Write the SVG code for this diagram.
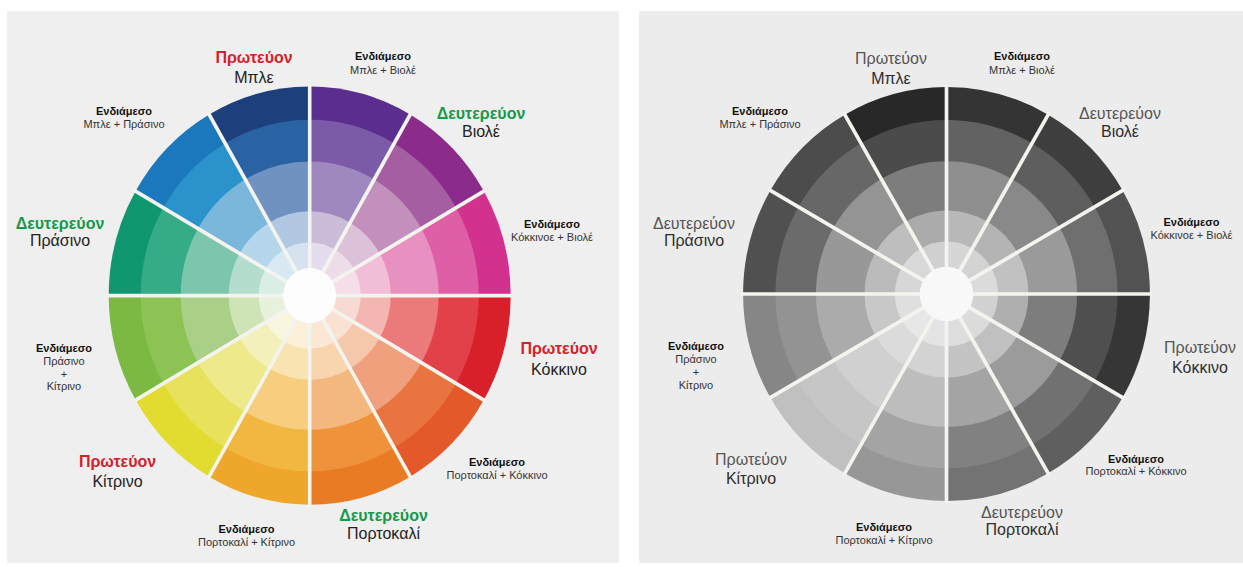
<svg xmlns="http://www.w3.org/2000/svg" width="1243" height="567" viewBox="0 0 1243 567">
<style>
text{font-family:"Liberation Sans",Arial,sans-serif;text-anchor:middle}
.p{font-weight:bold;font-size:16px;fill:#d4212c}
.s{font-weight:bold;font-size:16px;fill:#16994a}
.n{font-size:16px;fill:#222}
.ib{font-weight:bold;font-size:11px;fill:#111}
.it{font-size:11px;fill:#333}
.gp{font-size:16px;fill:#555}
.gn{font-size:16px;fill:#2e2e2e}
.div line{stroke:#f4f4ef;stroke-width:3.6}
</style>
<defs>
<path id="w1" d="M0 0 L0 -201 A201 201 0 0 1 100.5 -174.07 Z"/>
<path id="w2" d="M0 0 L0 -169 A169 169 0 0 1 84.5 -146.36 Z"/>
<path id="w3" d="M0 0 L0 -129 A129 129 0 0 1 64.5 -111.72 Z"/>
<path id="w4" d="M0 0 L0 -81 A81 81 0 0 1 40.5 -70.15 Z"/>
<path id="w5" d="M0 0 L0 -51 A51 51 0 0 1 25.5 -44.17 Z"/>
<g id="dividers" class="div">
<line x1="-203" y1="0" x2="203" y2="0"/>
<line x1="-203" y1="0" x2="203" y2="0" transform="rotate(30)"/>
<line x1="-203" y1="0" x2="203" y2="0" transform="rotate(60)"/>
<line x1="-203" y1="0" x2="203" y2="0" transform="rotate(90)"/>
<line x1="-203" y1="0" x2="203" y2="0" transform="rotate(120)"/>
<line x1="-203" y1="0" x2="203" y2="0" transform="rotate(150)"/>
</g>
</defs>
<rect width="1243" height="567" fill="#ffffff"/>
<rect id="panel-color" x="7" y="11" width="612" height="552" fill="#efefef"/>
<rect id="panel-gray" x="639" y="11" width="604" height="552" fill="#ececec"/>

<g id="wheel-color" transform="translate(309.7,295.6) scale(1,1.04)">
<g><use href="#w1" fill="#5b2d8e"/><use href="#w2" fill="#7b5ba8"/><use href="#w3" fill="#9f88bf"/><use href="#w4" fill="#cbbcda"/><use href="#w5" fill="#e5dded"/></g>
<g transform="rotate(30)"><use href="#w1" fill="#8b2b8c"/><use href="#w2" fill="#a65ea2"/><use href="#w3" fill="#c38fbc"/><use href="#w4" fill="#ddc1d8"/><use href="#w5" fill="#eddde9"/></g>
<g transform="rotate(60)"><use href="#w1" fill="#d3318e"/><use href="#w2" fill="#de5fa5"/><use href="#w3" fill="#e890bf"/><use href="#w4" fill="#f1bdd7"/><use href="#w5" fill="#f7dcea"/></g>
<g transform="rotate(90)"><use href="#w1" fill="#d8202b"/><use href="#w2" fill="#e24149"/><use href="#w3" fill="#ea7b7a"/><use href="#w4" fill="#f3b6b0"/><use href="#w5" fill="#f8d9d4"/></g>
<g transform="rotate(120)"><use href="#w1" fill="#e3592a"/><use href="#w2" fill="#ea7440"/><use href="#w3" fill="#f0a07d"/><use href="#w4" fill="#f5c8ac"/><use href="#w5" fill="#fae2d2"/></g>
<g transform="rotate(150)"><use href="#w1" fill="#e97b24"/><use href="#w2" fill="#ee933b"/><use href="#w3" fill="#f3b77f"/><use href="#w4" fill="#f8d4af"/><use href="#w5" fill="#fbe8d4"/></g>
<g transform="rotate(180)"><use href="#w1" fill="#eea62b"/><use href="#w2" fill="#f2b740"/><use href="#w3" fill="#f6ce7e"/><use href="#w4" fill="#f9e3b1"/><use href="#w5" fill="#fcf0d8"/></g>
<g transform="rotate(210)"><use href="#w1" fill="#e2dc30"/><use href="#w2" fill="#e7e15b"/><use href="#w3" fill="#eee98a"/><use href="#w4" fill="#f4f0bc"/><use href="#w5" fill="#f9f6de"/></g>
<g transform="rotate(240)"><use href="#w1" fill="#7bb942"/><use href="#w2" fill="#8dc254"/><use href="#w3" fill="#a9d086"/><use href="#w4" fill="#cee4b6"/><use href="#w5" fill="#e7f1db"/></g>
<g transform="rotate(270)"><use href="#w1" fill="#0f9870"/><use href="#w2" fill="#36ab87"/><use href="#w3" fill="#7dc6ae"/><use href="#w4" fill="#b5ddce"/><use href="#w5" fill="#daeee6"/></g>
<g transform="rotate(300)"><use href="#w1" fill="#1b78bd"/><use href="#w2" fill="#2b93cb"/><use href="#w3" fill="#7ab7db"/><use href="#w4" fill="#b5d6eb"/><use href="#w5" fill="#d9e9f4"/></g>
<g transform="rotate(330)"><use href="#w1" fill="#1d3f7c"/><use href="#w2" fill="#2a63a4"/><use href="#w3" fill="#6f92c1"/><use href="#w4" fill="#b2c7e1"/><use href="#w5" fill="#d7e2f0"/></g>
<use href="#dividers"/>
<circle r="26.5" fill="#fdfdfd"/>
</g>

<g id="wheel-gray" transform="translate(946.5,294) scale(1.012,1.03)">
<g><use href="#w1" fill="#343434"/><use href="#w2" fill="#626262"/><use href="#w3" fill="#8f8f8f"/><use href="#w4" fill="#b9b9b9"/><use href="#w5" fill="#d6d6d6"/></g>
<g transform="rotate(30)"><use href="#w1" fill="#3e3e3e"/><use href="#w2" fill="#5e5e5e"/><use href="#w3" fill="#898989"/><use href="#w4" fill="#b4b4b4"/><use href="#w5" fill="#d3d3d3"/></g>
<g transform="rotate(60)"><use href="#w1" fill="#525252"/><use href="#w2" fill="#6f6f6f"/><use href="#w3" fill="#9a9a9a"/><use href="#w4" fill="#c1c1c1"/><use href="#w5" fill="#dbdbdb"/></g>
<g transform="rotate(90)"><use href="#w1" fill="#363636"/><use href="#w2" fill="#4f4f4f"/><use href="#w3" fill="#7d7d7d"/><use href="#w4" fill="#afafaf"/><use href="#w5" fill="#d1d1d1"/></g>
<g transform="rotate(120)"><use href="#w1" fill="#5f5f5f"/><use href="#w2" fill="#717171"/><use href="#w3" fill="#9b9b9b"/><use href="#w4" fill="#c0c0c0"/><use href="#w5" fill="#dbdbdb"/></g>
<g transform="rotate(150)"><use href="#w1" fill="#737373"/><use href="#w2" fill="#818181"/><use href="#w3" fill="#a4a4a4"/><use href="#w4" fill="#c4c4c4"/><use href="#w5" fill="#dddddd"/></g>
<g transform="rotate(180)"><use href="#w1" fill="#979797"/><use href="#w2" fill="#a4a4a4"/><use href="#w3" fill="#bdbdbd"/><use href="#w4" fill="#d3d3d3"/><use href="#w5" fill="#e4e4e4"/></g>
<g transform="rotate(210)"><use href="#w1" fill="#c0c0c0"/><use href="#w2" fill="#c6c6c6"/><use href="#w3" fill="#d0d0d0"/><use href="#w4" fill="#dbdbdb"/><use href="#w5" fill="#e7e7e7"/></g>
<g transform="rotate(240)"><use href="#w1" fill="#868686"/><use href="#w2" fill="#939393"/><use href="#w3" fill="#ababab"/><use href="#w4" fill="#c8c8c8"/><use href="#w5" fill="#dfdfdf"/></g>
<g transform="rotate(270)"><use href="#w1" fill="#505050"/><use href="#w2" fill="#6b6b6b"/><use href="#w3" fill="#989898"/><use href="#w4" fill="#bbbbbb"/><use href="#w5" fill="#d7d7d7"/></g>
<g transform="rotate(300)"><use href="#w1" fill="#4c4c4c"/><use href="#w2" fill="#676767"/><use href="#w3" fill="#949494"/><use href="#w4" fill="#bebebe"/><use href="#w5" fill="#d9d9d9"/></g>
<g transform="rotate(330)"><use href="#w1" fill="#282828"/><use href="#w2" fill="#4b4b4b"/><use href="#w3" fill="#7d7d7d"/><use href="#w4" fill="#ababab"/><use href="#w5" fill="#d0d0d0"/></g>
<use href="#dividers"/>
<circle r="26.5" fill="#f8f8f8"/>
</g>

<g id="labels-color">
<g id="c-blue"><text class="p" x="254" y="63">Πρωτεύον</text><text class="n" x="254" y="83">Μπλε</text></g>
<g id="c-blue-violet"><text class="ib" x="383" y="60">Ενδιάμεσο</text><text class="it" x="383" y="73.5">Μπλε + Βιολέ</text></g>
<g id="c-violet"><text class="s" x="481" y="119">Δευτερεύον</text><text class="n" x="481" y="136.5">Βιολέ</text></g>
<g id="c-red-violet"><text class="ib" x="552" y="227.5">Ενδιάμεσο</text><text class="it" x="552" y="241">Κόκκινοε + Βιολέ</text></g>
<g id="c-red"><text class="p" x="559" y="353.5">Πρωτεύον</text><text class="n" x="559" y="375">Κόκκινο</text></g>
<g id="c-orange-red"><text class="ib" x="497" y="466">Ενδιάμεσο</text><text class="it" x="497" y="479">Πορτοκαλί + Κόκκινο</text></g>
<g id="c-orange"><text class="s" x="383.5" y="520.5">Δευτερεύον</text><text class="n" x="383.5" y="538.5">Πορτοκαλί</text></g>
<g id="c-orange-yellow"><text class="ib" x="246.5" y="533">Ενδιάμεσο</text><text class="it" x="246.5" y="546">Πορτοκαλί + Κίτρινο</text></g>
<g id="c-yellow"><text class="p" x="117.5" y="467">Πρωτεύον</text><text class="n" x="117.5" y="487">Κίτρινο</text></g>
<g id="c-green-yellow"><text class="ib" x="64" y="352">Ενδιάμεσο</text><text class="it" x="64" y="365">Πράσινο</text><text class="it" x="64" y="377.5">+</text><text class="it" x="64" y="390">Κίτρινο</text></g>
<g id="c-green"><text class="s" x="60" y="229">Δευτερεύον</text><text class="n" x="60" y="246">Πράσινο</text></g>
<g id="c-blue-green"><text class="ib" x="124" y="115">Ενδιάμεσο</text><text class="it" x="124" y="128">Μπλε + Πράσινο</text></g>
</g>

<g id="labels-gray">
<g id="g-blue"><text class="gp" x="891" y="64">Πρωτεύον</text><text class="gn" x="891" y="84">Μπλε</text></g>
<g id="g-blue-violet"><text class="ib" x="1022" y="60">Ενδιάμεσο</text><text class="it" x="1022" y="73.5">Μπλε + Βιολέ</text></g>
<g id="g-violet"><text class="gp" x="1120" y="119">Δευτερεύον</text><text class="gn" x="1120" y="136.5">Βιολέ</text></g>
<g id="g-red-violet"><text class="ib" x="1191.5" y="226">Ενδιάμεσο</text><text class="it" x="1191.5" y="238.5">Κόκκινοε + Βιολέ</text></g>
<g id="g-red"><text class="gp" x="1200" y="352.5">Πρωτεύον</text><text class="gn" x="1200" y="373">Κόκκινο</text></g>
<g id="g-orange-red"><text class="ib" x="1136" y="462.5">Ενδιάμεσο</text><text class="it" x="1136" y="475">Πορτοκαλί + Κόκκινο</text></g>
<g id="g-orange"><text class="gp" x="1022" y="517.5">Δευτερεύον</text><text class="gn" x="1022" y="535">Πορτοκαλί</text></g>
<g id="g-orange-yellow"><text class="ib" x="884" y="530.5">Ενδιάμεσο</text><text class="it" x="884" y="544">Πορτοκαλί + Κίτρινο</text></g>
<g id="g-yellow"><text class="gp" x="751" y="464.5">Πρωτεύον</text><text class="gn" x="751" y="484">Κίτρινο</text></g>
<g id="g-green-yellow"><text class="ib" x="696" y="350">Ενδιάμεσο</text><text class="it" x="696" y="363">Πράσινο</text><text class="it" x="696" y="375.5">+</text><text class="it" x="696" y="388.5">Κίτρινο</text></g>
<g id="g-green"><text class="gp" x="694" y="228.5">Δευτερεύον</text><text class="gn" x="694" y="246">Πράσινο</text></g>
<g id="g-blue-green"><text class="ib" x="760" y="114.5">Ενδιάμεσο</text><text class="it" x="760" y="127.5">Μπλε + Πράσινο</text></g>
</g>
</svg>
